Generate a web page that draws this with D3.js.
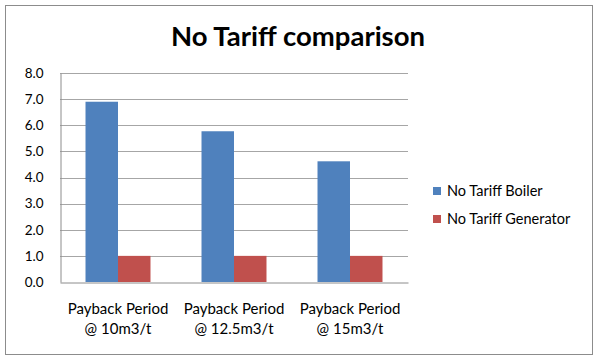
<!DOCTYPE html>
<html>
<head>
<meta charset="utf-8">
<script src="https://cdn.jsdelivr.net/npm/d3@7"></script>
<style>
  body { margin: 0; background: #fff; }
  text { font-family: Lato, "Open Sans", sans-serif; fill: #000; }
</style>
</head>
<body>
<div id="chart"></div>
<script>
const categories = ['Payback Period|@ 10m3/t', 'Payback Period|@ 12.5m3/t', 'Payback Period|@ 15m3/t'];
const seriesNames = ['No Tariff Boiler', 'No Tariff Generator'];
const boiler = [6.9, 5.77, 4.62];
const generator = [1.0, 1.0, 1.0];
const yTicks = [0, 1, 2, 3, 4, 5, 6, 7, 8];

const colors = ['#4F81BD', '#C0504D'];
const W = 600, H = 363;
const plot = { left: 60, right: 408, top: 73, bottom: 282 };

const svg = d3.select('#chart').append('svg')
  .attr('width', W)
  .attr('height', H);

svg.append('rect')
  .attr('x', 5.5).attr('y', 5.5)
  .attr('width', 587).attr('height', 349)
  .attr('fill', '#fff')
  .attr('stroke', '#8c8c8c')
  .attr('stroke-width', 1);

svg.append('text')
  .attr('x', 298).attr('y', 46)
  .attr('text-anchor', 'middle')
  .style('font-size', '27.5px')
  .style('font-weight', 'bold')
  .text('No Tariff comparison');

const x = d3.scaleBand().domain(categories).range([plot.left, plot.right]).paddingInner(0).paddingOuter(0);
const x1 = d3.scaleBand().domain(seriesNames).range([0, x.bandwidth()]).paddingInner(0).paddingOuter(0.785);
const y = d3.scaleLinear().domain([0, 8]).range([plot.bottom, plot.top]);

// gridlines
svg.append('g').selectAll('line')
  .data(yTicks.filter(d => d > 0))
  .join('line')
  .attr('x1', plot.left).attr('x2', plot.right)
  .attr('y1', d => Math.round(y(d)) + 0.5).attr('y2', d => Math.round(y(d)) + 0.5)
  .attr('stroke', '#a6a6a6');

// y axis
const yAxis = svg.append('g')
  .attr('transform', `translate(${plot.left + 0.5},0)`)
  .call(d3.axisLeft(y).tickValues(yTicks).tickFormat(d3.format('.1f')).tickSize(0).tickPadding(17));
yAxis.select('.domain').attr('stroke', '#8c8c8c');
yAxis.selectAll('text').style('font-size', '13.5px');

// bars
const rows = categories.map((c, i) => ({ cat: c, vals: [boiler[i], generator[i]] }));
svg.append('g').selectAll('g')
  .data(rows)
  .join('g')
  .attr('transform', d => `translate(${x(d.cat)},0)`)
  .selectAll('rect')
  .data(d => d.vals.map((v, j) => ({ name: seriesNames[j], v, j })))
  .join('rect')
  .attr('x', d => x1(d.name))
  .attr('width', x1.bandwidth())
  .attr('y', d => y(d.v))
  .attr('height', d => y(0) - y(d.v))
  .attr('fill', d => colors[d.j]);

// x axis
const xAxis = svg.append('g')
  .attr('transform', `translate(0,${plot.bottom + 0.5})`)
  .call(d3.axisBottom(x).tickSize(0).tickFormat(''));
xAxis.select('.domain').attr('stroke', '#8c8c8c');
xAxis.selectAll('.tick').each(function(d) {
  const parts = d.split('|');
  const t = d3.select(this).append('text')
    .attr('text-anchor', 'middle')
    .style('font-size', '15px');
  parts.forEach((p, i) => {
    t.append('tspan').attr('x', 0).attr('y', 31 + i * 20).text(p);
  });
});

// legend
const legend = svg.append('g').selectAll('g')
  .data(seriesNames)
  .join('g')
  .attr('transform', (d, i) => `translate(433,${191 + i * 28})`);
legend.append('rect')
  .attr('x', 0).attr('y', -4)
  .attr('width', 8).attr('height', 8)
  .attr('fill', (d, i) => colors[i]);
legend.append('text')
  .attr('x', 14).attr('y', 5)
  .style('font-size', '14.5px')
  .text(d => d);
</script>
</body>
</html>
